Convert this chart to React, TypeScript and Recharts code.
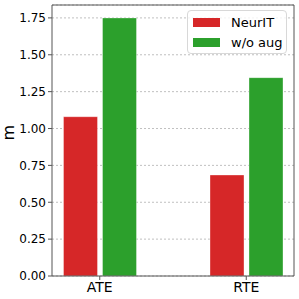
import { BarChart, Bar, XAxis, YAxis, CartesianGrid } from 'recharts';

const categories = ['ATE', 'RTE'];
const neuritValues = [1.08, 0.685];
const noAugValues = [1.75, 1.345];
const yTicks = [0, 0.25, 0.5, 0.75, 1.0, 1.25, 1.5, 1.75];

const series = [
  { key: 'neurit', name: 'NeurIT', color: '#d62728' },
  { key: 'noaug', name: 'w/o aug', color: '#2ca02c' },
];

const data = categories.map((c, i) => ({
  name: c,
  neurit: neuritValues[i],
  noaug: noAugValues[i],
}));

const font = '"DejaVu Sans", sans-serif';
const spine = '#555';

function LegendBox() {
  return (
    <div
      style={{
        position: 'absolute',
        top: 10,
        left: 187,
        width: 100,
        boxSizing: 'border-box',
        border: '1px solid #d8d8d8',
        borderRadius: 4,
        background: 'rgba(255,255,255,0.8)',
        padding: '1px 0 1px 5px',
        fontFamily: font,
        fontSize: 13,
        color: '#000',
      }}
    >
      {series.map((s) => (
        <div key={s.key} style={{ display: 'flex', alignItems: 'center', height: 20 }}>
          <span style={{ width: 27, height: 9, background: s.color, marginRight: 11 }} />
          <span>{s.name}</span>
        </div>
      ))}
    </div>
  );
}

export default function App() {
  return (
    <div style={{ position: 'absolute', left: 0, top: 0, width: 299, height: 299, background: '#fff' }}>
      <BarChart
        width={299}
        height={299}
        data={data}
        margin={{ top: 4, right: 4, bottom: 0, left: 0 }}
        barGap={5}
      >
        <CartesianGrid vertical={false} stroke="#b0b0b0" strokeDasharray="2 2" strokeWidth={0.8} />
        <XAxis
          dataKey="name"
          height={23}
          padding={{ left: -25.5, right: -25.5 }}
          axisLine={{ stroke: spine }}
          tickLine={{ stroke: spine }}
          tickSize={4}
          tick={{ fontSize: 14, fill: '#000', fontFamily: font }}
        />
        <XAxis
          xAxisId="top"
          orientation="top"
          dataKey="name"
          height={1}
          tick={false}
          tickLine={false}
          axisLine={{ stroke: spine }}
        />
        <YAxis
          width={52}
          domain={[0, 1.8375]}
          ticks={yTicks}
          tickFormatter={(v: number) => v.toFixed(2)}
          axisLine={{ stroke: spine }}
          tickLine={{ stroke: spine }}
          tickSize={4}
          tick={{ fontSize: 12, fill: '#000', fontFamily: font }}
          label={{ value: 'm', angle: -90, position: 'insideLeft', offset: 8, fontSize: 16, fill: '#000', fontFamily: font }}
        />
        <YAxis
          yAxisId="right"
          orientation="right"
          width={1}
          tick={false}
          tickLine={false}
          axisLine={{ stroke: spine }}
        />
        {series.map((s) => (
          <Bar
            key={s.key}
            dataKey={s.key}
            name={s.name}
            fill={s.color}
            stroke="rgba(255,255,255,0.35)"
            strokeWidth={1}
            barSize={34}
            isAnimationActive={false}
          />
        ))}
      </BarChart>
      <LegendBox />
    </div>
  );
}
